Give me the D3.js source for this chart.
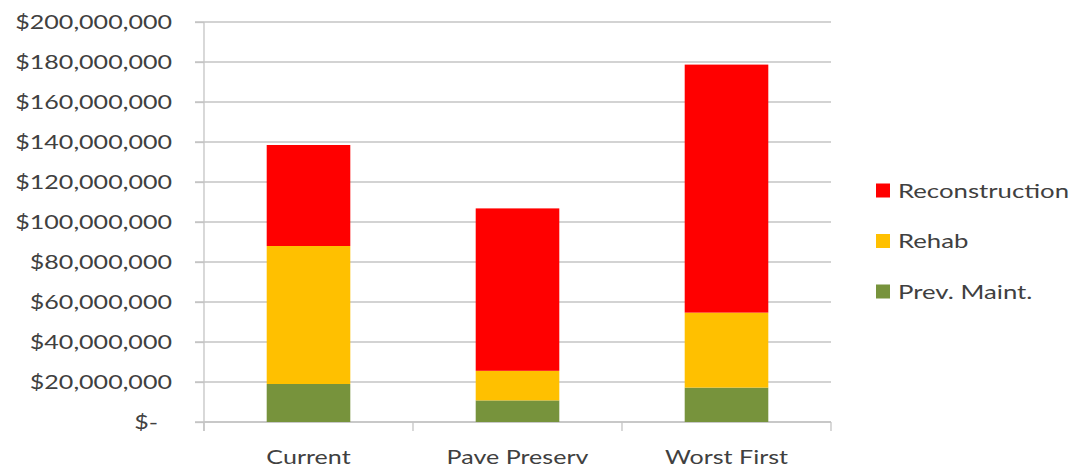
<!DOCTYPE html>
<html>
<head>
<meta charset="utf-8">
<script src="https://cdn.jsdelivr.net/npm/d3@7"></script>
<style>
  html, body { margin: 0; padding: 0; background: #fff; }
  svg { display: block; }
  text { font-family: Lato, "Open Sans", sans-serif; fill: #404040; }
</style>
</head>
<body>
<svg id="chart" width="1080" height="470"></svg>
<script>
// Program budgets by strategy, in dollars
const categories = ["Current", "Pave Preserv", "Worst First"];
const seriesNames = ["Prev. Maint.", "Rehab", "Reconstruction"];
const prevMaint = [19.0e6, 10.8e6, 17.2e6];
const rehab = [69.0e6, 14.8e6, 37.5e6];
const reconstruction = [50.5e6, 81.2e6, 124.0e6];
const yTicks = [0, 20e6, 40e6, 60e6, 80e6, 100e6, 120e6, 140e6, 160e6, 180e6, 200e6];
const colors = { "Prev. Maint.": "#77933c", "Rehab": "#ffc000", "Reconstruction": "#ff0000" };

const rows = categories.map((c, i) => ({
  category: c,
  "Prev. Maint.": prevMaint[i],
  "Rehab": rehab[i],
  "Reconstruction": reconstruction[i]
}));

const svg = d3.select("#chart");
const stretch = 1.32;   // horizontal stretch for the condensed label face
const fontSize = 19;

const x = d3.scaleBand().domain(categories).range([204, 831]).padding(0);
const y = d3.scaleLinear().domain([0, 200e6]).range([422, 22]);
const gridColor = "#c4c4c4";

// horizontal gridlines
svg.append("g")
  .selectAll("line")
  .data(yTicks)
  .join("line")
  .attr("x1", 195).attr("x2", 831)
  .attr("y1", d => y(d)).attr("y2", d => y(d))
  .attr("stroke", gridColor).attr("stroke-width", 1.3);

// y axis
const fmt = d => d === 0 ? "$-" : "$" + d3.format(",")(d);
const yAxis = svg.append("g")
  .attr("transform", "translate(204,0)")
  .call(d3.axisLeft(y).tickValues(yTicks).tickFormat(fmt).tickSize(9).tickSizeOuter(0));
yAxis.select(".domain").attr("stroke", gridColor).attr("stroke-width", 1.3)
  .attr("d", `M0,${y(200e6)}V431`);
yAxis.selectAll(".tick line").attr("stroke", gridColor).attr("stroke-width", 1.3);
yAxis.selectAll(".tick text")
  .attr("x", 0).attr("dy", "0.36em")
  .style("font-size", fontSize + "px").style("font-family", "Lato, sans-serif").attr("fill", "#404040")
  .attr("transform", d => `translate(${d === 0 ? -46 : -32},0) scale(${stretch},1)`);

// x axis
const xAxis = svg.append("g").attr("transform", "translate(0,422)");
xAxis.append("line").attr("x1", 204).attr("x2", 831).attr("y1", 0).attr("y2", 0)
  .attr("stroke", gridColor).attr("stroke-width", 1.3);
const boundaries = categories.map(c => x(c) + x.bandwidth()).concat([x(categories[0])]);
xAxis.selectAll("line.tick")
  .data(boundaries)
  .join("line").attr("class", "tick")
  .attr("x1", d => d).attr("x2", d => d).attr("y1", 0).attr("y2", 9)
  .attr("stroke", gridColor).attr("stroke-width", 1.3);
xAxis.selectAll("text")
  .data(categories)
  .join("text")
  .attr("text-anchor", "middle")
  .style("font-size", fontSize + "px")
  .attr("transform", d => `translate(${x(d) + x.bandwidth() / 2},42) scale(${stretch},1)`)
  .text(d => d);

// stacked bars
const stack = d3.stack().keys(seriesNames)(rows);
const barW = x.bandwidth() * 0.4;
svg.append("g")
  .selectAll("g")
  .data(stack)
  .join("g")
  .attr("fill", s => colors[s.key])
  .selectAll("rect")
  .data(s => s)
  .join("rect")
  .attr("x", d => x(d.data.category) + (x.bandwidth() - barW) / 2)
  .attr("width", barW)
  .attr("y", d => y(d[1]))
  .attr("height", d => y(d[0]) - y(d[1]));

// legend
const legendOrder = ["Reconstruction", "Rehab", "Prev. Maint."];
const legend = svg.append("g")
  .selectAll("g")
  .data(legendOrder)
  .join("g")
  .attr("transform", (d, i) => `translate(876,${190.5 + i * 50.5})`);
legend.append("rect")
  .attr("x", 0).attr("y", -7).attr("width", 14).attr("height", 14)
  .attr("fill", d => colors[d]);
legend.append("text")
  .attr("dy", "0.36em")
  .style("font-size", "19.5px")
  .attr("transform", `translate(22,0) scale(${stretch},1)`)
  .text(d => d);
</script>
</body>
</html>
